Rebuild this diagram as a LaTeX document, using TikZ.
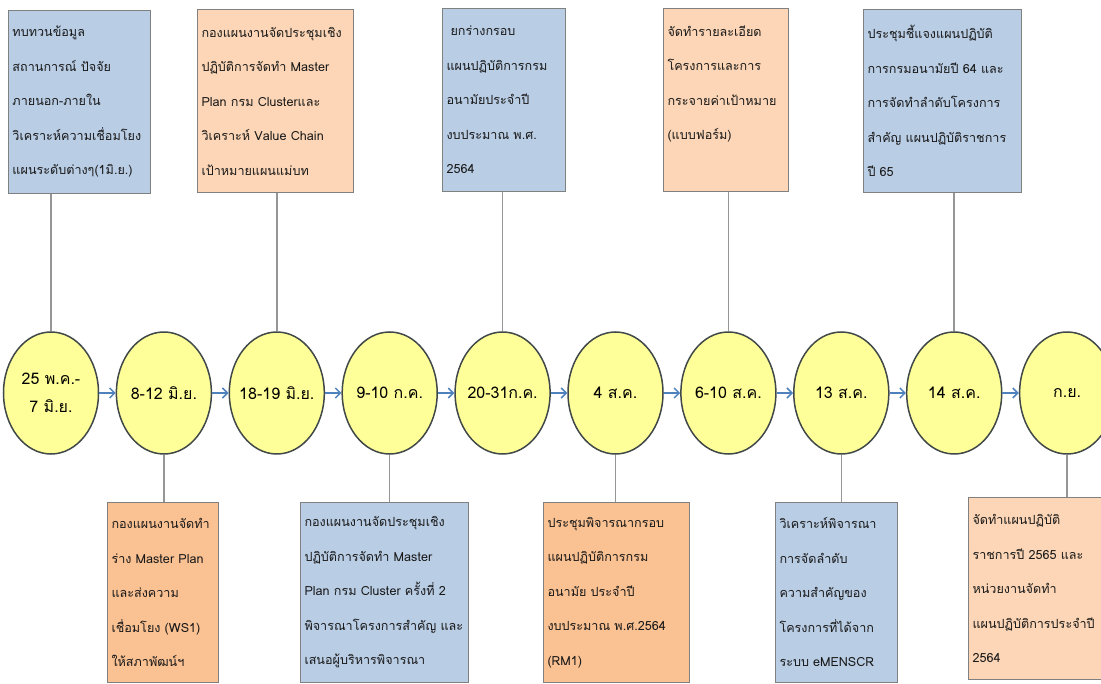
\documentclass[tikz,border=0pt]{standalone}
\usepackage{fontspec}
\newfontfamily\thaifont[Script=Thai]{Loma}
\usetikzlibrary{arrows.meta,shapes.geometric,positioning}
\definecolor{datefill}{RGB}{255,255,153}
\definecolor{dateline}{RGB}{64,72,72}
\definecolor{planblue}{RGB}{185,205,229}
\definecolor{planpeach}{RGB}{252,214,182}
\definecolor{planorange}{RGB}{250,193,146}
\definecolor{boxline}{RGB}{128,128,128}
\definecolor{flowblue}{RGB}{79,129,189}
\definecolor{stemgrey}{RGB}{150,150,150}

\begin{document}
\begin{tikzpicture}[x=1pt,y=-1pt,node distance=16.4pt,
  date node/.style={ellipse,draw=dateline,fill=datefill,line width=1.5pt,
    minimum width=95pt,minimum height=122pt,inner xsep=-14pt,inner ysep=0pt,
    align=center,font=\thaifont\fontsize{16}{28}\selectfont},
  plan box/.style={rectangle,draw=boxline,line width=1pt,anchor=north west,
    align=left,inner xsep=4pt,inner ysep=0pt,minimum height=183pt,
    font=\thaifont\fontsize{12.6}{34.5}\selectfont,text=black!90},
  flow/.style={-{Straight Barb[length=5pt,width=10pt]},draw=flowblue,line width=1.5pt},
  stem/.style={draw=stemgrey,line width=1.5pt}]
  \useasboundingbox (0,0) rectangle (1101,684);

  \node[date node] (e1) at (51,393) {25 พ.ค.-\\7 มิ.ย.};
  \node[date node,right=of e1] (e2) {8-12 มิ.ย.};
  \node[date node,right=of e2] (e3) {18-19 มิ.ย.};
  \node[date node,right=of e3] (e4) {9-10 ก.ค.};
  \node[date node,right=of e4] (e5) {20-31ก.ค.};
  \node[date node,right=of e5] (e6) {4 ส.ค.};
  \node[date node,right=of e6] (e7) {6-10 ส.ค.};
  \node[date node,right=of e7] (e8) {13 ส.ค.};
  \node[date node,right=of e8] (e9) {14 ส.ค.};
  \node[date node,right=of e9] (e10) {ก.ย.};

  \node[plan box,fill=planblue,text width=134pt] (t1) at (8,10)
    {ทบทวนข้อมูล\\สถานการณ์~ปัจจัย\\ภายนอก-ภายใน\\วิเคราะห์ความเชื่อมโยง\\แผนระดับต่างๆ(1มิ.ย.)};
  \node[plan box,fill=planpeach,text width=148pt] (t2) at (197,9)
    {กองแผนงานจัดประชุมเชิง\\ปฏิบัติการจัดทำ~Master\\Plan~กรม~Clusterและ\\วิเคราะห์~Value~Chain\\เป้าหมายแผนแม่บท};
  \node[plan box,fill=planblue,text width=115pt] (t3) at (442,8)
    {\hspace*{4pt}ยกร่างกรอบ\\แผนปฏิบัติการกรม\\อนามัยประจำปี\\งบประมาณ~พ.ศ.\\2564};
  \node[plan box,fill=planpeach,text width=117pt] (t4) at (663,8)
    {จัดทำรายละเอียด\\โครงการและการ\\กระจายค่าเป้าหมาย\\(แบบฟอร์ม)\\\mbox{}};
  \node[plan box,fill=planblue,text width=150pt] (t5) at (863,9)
    {ประชุมชี้แจงแผนปฏิบัติ\\การกรมอนามัยปี~64~และ\\การจัดทำลำดับโครงการ\\สำคัญ~แผนปฏิบัติราชการ\\ปี~65};

  \node[plan box,fill=planorange,text width=103pt,minimum height=180pt] (b1) at (107,502)
    {กองแผนงานจัดทำ\\ร่าง~Master~Plan\\และส่งความ\\เชื่อมโยง~(WS1)\\ให้สภาพัฒน์ฯ};
  \node[plan box,fill=planblue,text width=160pt,minimum height=180pt] (b2) at (300,502)
    {กองแผนงานจัดประชุมเชิง\\ปฏิบัติการจัดทำ~Master\\Plan~กรม~Cluster~ครั้งที่~2\\พิจารณาโครงการสำคัญ~และ\\เสนอผู้บริหารพิจารณา};
  \node[plan box,fill=planorange,text width=138pt,minimum height=180pt] (b3) at (543,502)
    {ประชุมพิจารณากรอบ\\แผนปฏิบัติการกรม\\อนามัย~ประจำปี\\งบประมาณ~พ.ศ.2564\\(RM1)};
  \node[plan box,fill=planblue,text width=114pt,minimum height=180pt] (b4) at (775,502)
    {วิเคราะห์พิจารณา\\การจัดลำดับ\\ความสำคัญของ\\โครงการที่ได้จาก\\ระบบ~eMENSCR};
  \node[plan box,fill=planpeach,text width=126pt,minimum height=182pt] (b5) at (968,497)
    {จัดทำแผนปฏิบัติ\\ราชการปี~2565~และ\\หน่วยงานจัดทำ\\แผนปฏิบัติการประจำปี\\2564};

  \foreach \i [count=\j from 2] in {1,...,9}
    \draw[flow] (e\i) -- (e\j);
  \foreach \t/\e in {t1/e1,t2/e3,t3/e5,t4/e7,t5/e9}
    \draw[stem] (\e.north |- \t.south) -- (\e.north);
  \foreach \b/\e in {b1/e2,b2/e4,b3/e6,b4/e8,b5/e10}
    \draw[stem] (\e.south) -- (\e.south |- \b.north);
\end{tikzpicture}
\end{document}
